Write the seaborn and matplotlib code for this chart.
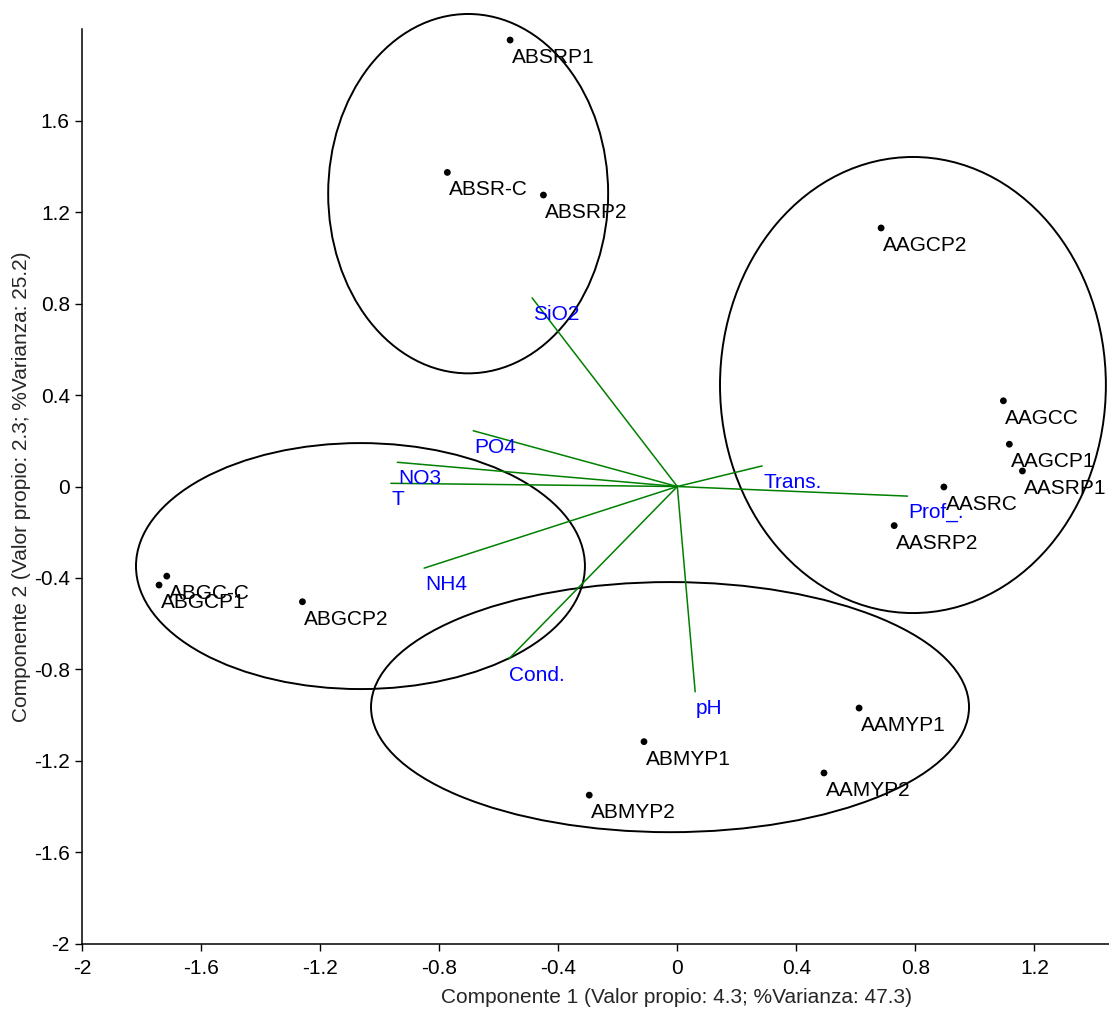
import matplotlib
matplotlib.use("Agg")
import matplotlib.pyplot as plt
from matplotlib.patches import Ellipse
from matplotlib.ticker import FixedLocator, FuncFormatter
import numpy as np
import pandas as pd
import seaborn as sns

# Sample scores on the first two principal components
sites = ["ABSRP1", "ABSR-C", "ABSRP2", "AAGCP2", "AAGCC", "AAGCP1", "AASRP1",
         "AASRC", "AASRP2", "ABGC-C", "ABGCP1", "ABGCP2", "ABMYP1", "ABMYP2",
         "AAMYP1", "AAMYP2"]
comp1 = [-0.562, -0.773, -0.450, 0.685, 1.096, 1.116, 1.160,
         0.896, 0.729, -1.716, -1.742, -1.260, -0.112, -0.296,
         0.611, 0.493]
comp2 = [1.953, 1.374, 1.275, 1.131, 0.375, 0.185, 0.068,
         -0.002, -0.171, -0.392, -0.431, -0.504, -1.116, -1.350,
         -0.969, -1.253]

# Variable loadings (biplot vectors)
variables = ["SiO2", "PO4", "NO3", "T", "NH4", "Cond.", "pH", "Trans.", "Prof_."]
load1 = [-0.488, -0.686, -0.941, -0.963, -0.851, -0.568, 0.060, 0.285, 0.774]
load2 = [0.825, 0.244, 0.106, 0.014, -0.357, -0.756, -0.898, 0.090, -0.042]

# Group ellipses: centre, width, height (component units)
ell_cx = [-0.703, 0.792, -1.065, -0.0245]
ell_cy = [1.281, 0.444, -0.348, -0.965]
ell_w = [0.941, 1.297, 1.509, 2.010]
ell_h = [1.572, 1.995, 1.076, 1.094]

xticks = [-2, -1.6, -1.2, -0.8, -0.4, 0, 0.4, 0.8, 1.2]
yticks = [-2, -1.6, -1.2, -0.8, -0.4, 0, 0.4, 0.8, 1.2, 1.6]

xlabel = "Componente 1 (Valor propio: 4.3; %Varianza: 47.3)"
ylabel = "Componente 2 (Valor propio: 2.3; %Varianza: 25.2)"

sns.set_style("ticks")
plt.rcParams["font.family"] = ["Liberation Sans", "DejaVu Sans"]
FS = 15

fig = plt.figure(figsize=(11.09, 10.14), dpi=100)
ax = fig.add_axes([0.0742, 0.0693, 0.9258, 0.9018])

scores = pd.DataFrame({"site": sites, "c1": comp1, "c2": comp2})

# ellipses
for cx, cy, w, h in zip(ell_cx, ell_cy, ell_w, ell_h):
    ax.add_patch(Ellipse((cx, cy), w, h, fill=False, edgecolor="black",
                         linewidth=1.4, clip_on=False, zorder=2))

# loading vectors
for name, lx, ly in zip(variables, load1, load2):
    ax.plot([0, lx], [0, ly], color="#008000", linewidth=1.1, zorder=3)
    ax.annotate(name, (lx, ly), xytext=(1, -22), textcoords="offset pixels",
                ha="left", va="baseline", color="#0000FF", fontsize=FS,
                zorder=4)

# sample scores
sns.scatterplot(data=scores, x="c1", y="c2", color="black", s=24,
                edgecolor="none", ax=ax, legend=False, zorder=5)
for name, x, y in zip(sites, comp1, comp2):
    ax.annotate(name, (x, y), xytext=(2, -23), textcoords="offset pixels",
                ha="left", va="baseline", color="black", fontsize=FS,
                zorder=6)

ax.set_xlim(-2, 1.451)
ax.set_ylim(-2, 2.0)
ax.xaxis.set_major_locator(FixedLocator(xticks))
ax.yaxis.set_major_locator(FixedLocator(yticks))
fmt = FuncFormatter(lambda v, p: f"{v:g}")
ax.xaxis.set_major_formatter(fmt)
ax.yaxis.set_major_formatter(fmt)
ax.tick_params(axis="both", direction="out", length=5, width=1.0,
               labelsize=FS, color="black", labelcolor="black")
ax.tick_params(axis="x", pad=6)
ax.tick_params(axis="y", pad=4)

for side in ["top", "right"]:
    ax.spines[side].set_visible(False)
for side in ["left", "bottom"]:
    ax.spines[side].set_linewidth(1.1)
    ax.spines[side].set_color("black")

ax.set_xlabel(xlabel, fontsize=FS)
ax.set_ylabel(ylabel, fontsize=FS)
ax.xaxis.set_label_coords(0.579, -0.048)
ax.yaxis.set_label_coords(-0.050, 0.5)

fig.savefig("out.png", dpi=100, facecolor="white")
